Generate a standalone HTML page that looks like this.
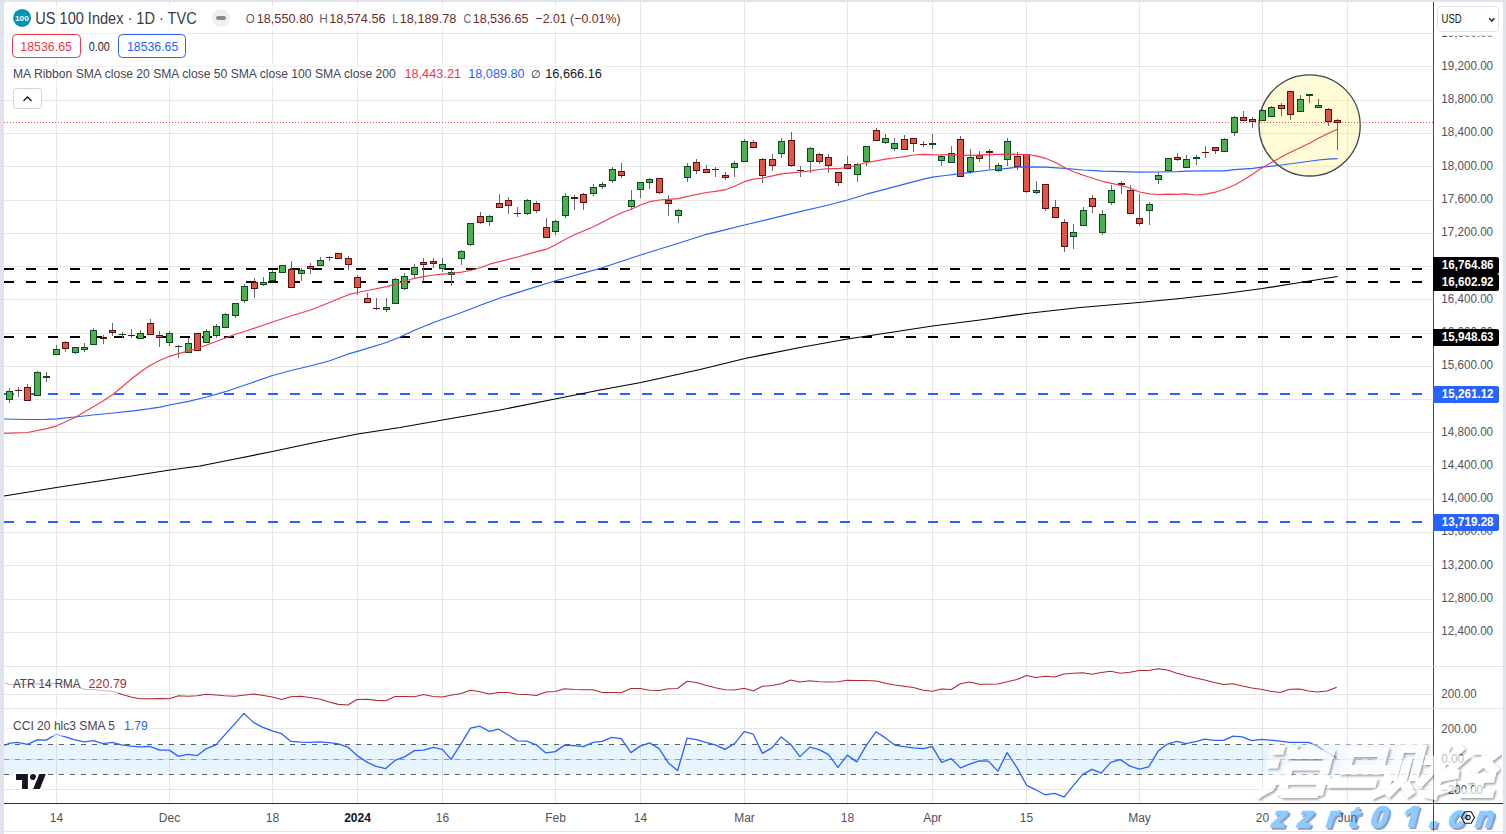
<!DOCTYPE html><html><head><meta charset="utf-8"><title>US 100 Index</title>
<style>
html,body{margin:0;padding:0;background:#fff;}
body{width:1506px;height:834px;overflow:hidden;position:relative;font-family:"Liberation Sans",sans-serif;}
svg{position:absolute;left:0;top:0;display:block}
text{font-family:"Liberation Sans",sans-serif;}
</style></head><body>
<svg width="1506" height="834" viewBox="0 0 1506 834">
<rect x="0" y="0" width="1506" height="834" fill="#e0e3eb"/>
<path d="M7,2 H1500 a3,3 0 0 1 3,3 V834 H4 V5 a3,3 0 0 1 3,-3 Z" fill="#fff"/>
<rect x="4" y="831" width="1499" height="1" fill="#e0e3eb"/>
<rect x="56" y="2" width="1" height="801" fill="#e6e6e6"/>
<rect x="169" y="2" width="1" height="801" fill="#e6e6e6"/>
<rect x="272" y="2" width="1" height="801" fill="#e6e6e6"/>
<rect x="357" y="2" width="1" height="801" fill="#e6e6e6"/>
<rect x="442" y="2" width="1" height="801" fill="#e6e6e6"/>
<rect x="555" y="2" width="1" height="801" fill="#e6e6e6"/>
<rect x="640" y="2" width="1" height="801" fill="#e6e6e6"/>
<rect x="744" y="2" width="1" height="801" fill="#e6e6e6"/>
<rect x="847" y="2" width="1" height="801" fill="#e6e6e6"/>
<rect x="932" y="2" width="1" height="801" fill="#e6e6e6"/>
<rect x="1026" y="2" width="1" height="801" fill="#e6e6e6"/>
<rect x="1139" y="2" width="1" height="801" fill="#e6e6e6"/>
<rect x="1262" y="2" width="1" height="801" fill="#e6e6e6"/>
<rect x="1347" y="2" width="1" height="801" fill="#e6e6e6"/>
<rect x="4" y="33" width="1429" height="1" fill="#e6e6e6"/>
<rect x="4" y="66" width="1429" height="1" fill="#e6e6e6"/>
<rect x="4" y="100" width="1429" height="1" fill="#e6e6e6"/>
<rect x="4" y="133" width="1429" height="1" fill="#e6e6e6"/>
<rect x="4" y="166" width="1429" height="1" fill="#e6e6e6"/>
<rect x="4" y="200" width="1429" height="1" fill="#e6e6e6"/>
<rect x="4" y="233" width="1429" height="1" fill="#e6e6e6"/>
<rect x="4" y="266" width="1429" height="1" fill="#e6e6e6"/>
<rect x="4" y="299" width="1429" height="1" fill="#e6e6e6"/>
<rect x="4" y="333" width="1429" height="1" fill="#e6e6e6"/>
<rect x="4" y="366" width="1429" height="1" fill="#e6e6e6"/>
<rect x="4" y="399" width="1429" height="1" fill="#e6e6e6"/>
<rect x="4" y="432" width="1429" height="1" fill="#e6e6e6"/>
<rect x="4" y="466" width="1429" height="1" fill="#e6e6e6"/>
<rect x="4" y="499" width="1429" height="1" fill="#e6e6e6"/>
<rect x="4" y="532" width="1429" height="1" fill="#e6e6e6"/>
<rect x="4" y="565" width="1429" height="1" fill="#e6e6e6"/>
<rect x="4" y="599" width="1429" height="1" fill="#e6e6e6"/>
<rect x="4" y="632" width="1429" height="1" fill="#e6e6e6"/>
<rect x="4" y="694" width="1429" height="1" fill="#e6e6e6"/>
<rect x="4" y="728" width="1429" height="1" fill="#e6e6e6"/>
<rect x="4" y="759" width="1429" height="1" fill="#e6e6e6"/>
<rect x="4" y="789" width="1429" height="1" fill="#e6e6e6"/>
<rect x="4" y="744" width="1429" height="31" fill="#2196f3" fill-opacity="0.1"/>
<line x1="4" y1="744.5" x2="1433" y2="744.5" stroke="#5d606b" stroke-width="1" stroke-dasharray="5,6"/>
<line x1="4" y1="759.5" x2="1433" y2="759.5" stroke="#9598a1" stroke-width="1" stroke-dasharray="5,6"/>
<line x1="4" y1="774.5" x2="1433" y2="774.5" stroke="#5d606b" stroke-width="1" stroke-dasharray="5,6"/>
<circle cx="1309.6" cy="125.4" r="50.6" fill="#fff176" fill-opacity="0.3" stroke="#434651" stroke-width="1.3"/>
<line x1="4" y1="269" x2="1433" y2="269" stroke="#000" stroke-width="2" stroke-dasharray="10,12"/>
<line x1="4" y1="282" x2="1433" y2="282" stroke="#000" stroke-width="2" stroke-dasharray="10,12"/>
<line x1="4" y1="337" x2="1433" y2="337" stroke="#000" stroke-width="2" stroke-dasharray="10,12"/>
<line x1="4" y1="394" x2="1433" y2="394" stroke="#2962ff" stroke-width="2" stroke-dasharray="10,12"/>
<line x1="4" y1="522" x2="1433" y2="522" stroke="#2962ff" stroke-width="2" stroke-dasharray="10,12"/>
<line x1="4" y1="122.5" x2="1433" y2="122.5" stroke="#e0533f" stroke-width="1" stroke-dasharray="1,2"/>
<rect x="9" y="388" width="1" height="15" fill="#67686c"/>
<rect x="6" y="391" width="7" height="9" fill="#0b4a1f"/>
<rect x="7" y="392" width="5" height="7" fill="#4caf50"/>
<rect x="18" y="387" width="1" height="10" fill="#67686c"/>
<rect x="15" y="390" width="7" height="1" fill="#5a1010"/>
<rect x="27" y="384" width="1" height="17" fill="#67686c"/>
<rect x="24" y="387" width="7" height="14" fill="#5a1010"/>
<rect x="25" y="388" width="5" height="12" fill="#dc5546"/>
<rect x="37" y="371" width="1" height="25" fill="#67686c"/>
<rect x="34" y="372" width="7" height="24" fill="#0b4a1f"/>
<rect x="35" y="373" width="5" height="22" fill="#4caf50"/>
<rect x="46" y="372" width="1" height="10" fill="#67686c"/>
<rect x="43" y="376" width="7" height="2" fill="#0b4a1f"/>
<rect x="56" y="345" width="1" height="10" fill="#67686c"/>
<rect x="53" y="349" width="7" height="6" fill="#0b4a1f"/>
<rect x="54" y="350" width="5" height="4" fill="#4caf50"/>
<rect x="65" y="341" width="1" height="11" fill="#67686c"/>
<rect x="62" y="342" width="7" height="7" fill="#5a1010"/>
<rect x="63" y="343" width="5" height="5" fill="#dc5546"/>
<rect x="75" y="347" width="1" height="7" fill="#67686c"/>
<rect x="72" y="347" width="7" height="6" fill="#0b4a1f"/>
<rect x="73" y="348" width="5" height="4" fill="#4caf50"/>
<rect x="84" y="343" width="1" height="9" fill="#67686c"/>
<rect x="81" y="347" width="7" height="3" fill="#0b4a1f"/>
<rect x="82" y="348" width="5" height="1" fill="#4caf50"/>
<rect x="93" y="328" width="1" height="17" fill="#67686c"/>
<rect x="90" y="330" width="7" height="15" fill="#0b4a1f"/>
<rect x="91" y="331" width="5" height="13" fill="#4caf50"/>
<rect x="103" y="335" width="1" height="9" fill="#67686c"/>
<rect x="100" y="337" width="7" height="2" fill="#5a1010"/>
<rect x="112" y="323" width="1" height="13" fill="#67686c"/>
<rect x="109" y="330" width="7" height="3" fill="#5a1010"/>
<rect x="110" y="331" width="5" height="1" fill="#dc5546"/>
<rect x="122" y="332" width="1" height="6" fill="#67686c"/>
<rect x="119" y="334" width="7" height="1" fill="#0b4a1f"/>
<rect x="131" y="329" width="1" height="9" fill="#67686c"/>
<rect x="128" y="335" width="7" height="1" fill="#5a1010"/>
<rect x="140" y="330" width="1" height="9" fill="#67686c"/>
<rect x="137" y="333" width="7" height="6" fill="#0b4a1f"/>
<rect x="138" y="334" width="5" height="4" fill="#4caf50"/>
<rect x="150" y="319" width="1" height="16" fill="#67686c"/>
<rect x="147" y="323" width="7" height="12" fill="#5a1010"/>
<rect x="148" y="324" width="5" height="10" fill="#dc5546"/>
<rect x="159" y="331" width="1" height="16" fill="#67686c"/>
<rect x="156" y="335" width="7" height="3" fill="#5a1010"/>
<rect x="157" y="336" width="5" height="1" fill="#dc5546"/>
<rect x="169" y="331" width="1" height="15" fill="#67686c"/>
<rect x="166" y="333" width="7" height="10" fill="#0b4a1f"/>
<rect x="167" y="334" width="5" height="8" fill="#4caf50"/>
<rect x="178" y="345" width="1" height="13" fill="#67686c"/>
<rect x="175" y="346" width="7" height="1" fill="#0b4a1f"/>
<rect x="188" y="338" width="1" height="15" fill="#67686c"/>
<rect x="185" y="343" width="7" height="10" fill="#0b4a1f"/>
<rect x="186" y="344" width="5" height="8" fill="#4caf50"/>
<rect x="197" y="333" width="1" height="18" fill="#67686c"/>
<rect x="194" y="333" width="7" height="18" fill="#5a1010"/>
<rect x="195" y="334" width="5" height="16" fill="#dc5546"/>
<rect x="206" y="329" width="1" height="14" fill="#67686c"/>
<rect x="203" y="331" width="7" height="12" fill="#0b4a1f"/>
<rect x="204" y="332" width="5" height="10" fill="#4caf50"/>
<rect x="216" y="324" width="1" height="14" fill="#67686c"/>
<rect x="213" y="326" width="7" height="10" fill="#0b4a1f"/>
<rect x="214" y="327" width="5" height="8" fill="#4caf50"/>
<rect x="225" y="313" width="1" height="15" fill="#67686c"/>
<rect x="222" y="314" width="7" height="14" fill="#0b4a1f"/>
<rect x="223" y="315" width="5" height="12" fill="#4caf50"/>
<rect x="235" y="303" width="1" height="15" fill="#67686c"/>
<rect x="232" y="303" width="7" height="13" fill="#0b4a1f"/>
<rect x="233" y="304" width="5" height="11" fill="#4caf50"/>
<rect x="244" y="284" width="1" height="19" fill="#67686c"/>
<rect x="241" y="286" width="7" height="15" fill="#0b4a1f"/>
<rect x="242" y="287" width="5" height="13" fill="#4caf50"/>
<rect x="254" y="278" width="1" height="20" fill="#67686c"/>
<rect x="251" y="282" width="7" height="7" fill="#5a1010"/>
<rect x="252" y="283" width="5" height="5" fill="#dc5546"/>
<rect x="263" y="277" width="1" height="9" fill="#67686c"/>
<rect x="260" y="282" width="7" height="3" fill="#0b4a1f"/>
<rect x="261" y="283" width="5" height="1" fill="#4caf50"/>
<rect x="272" y="270" width="1" height="11" fill="#67686c"/>
<rect x="269" y="272" width="7" height="9" fill="#0b4a1f"/>
<rect x="270" y="273" width="5" height="7" fill="#4caf50"/>
<rect x="282" y="265" width="1" height="8" fill="#67686c"/>
<rect x="279" y="265" width="7" height="8" fill="#0b4a1f"/>
<rect x="280" y="266" width="5" height="6" fill="#4caf50"/>
<rect x="291" y="261" width="1" height="27" fill="#67686c"/>
<rect x="288" y="269" width="7" height="19" fill="#5a1010"/>
<rect x="289" y="270" width="5" height="17" fill="#dc5546"/>
<rect x="301" y="268" width="1" height="13" fill="#67686c"/>
<rect x="298" y="270" width="7" height="4" fill="#0b4a1f"/>
<rect x="299" y="271" width="5" height="2" fill="#4caf50"/>
<rect x="310" y="263" width="1" height="11" fill="#67686c"/>
<rect x="307" y="266" width="7" height="3" fill="#5a1010"/>
<rect x="308" y="267" width="5" height="1" fill="#dc5546"/>
<rect x="320" y="257" width="1" height="9" fill="#67686c"/>
<rect x="317" y="260" width="7" height="6" fill="#0b4a1f"/>
<rect x="318" y="261" width="5" height="4" fill="#4caf50"/>
<rect x="329" y="256" width="1" height="5" fill="#67686c"/>
<rect x="326" y="257" width="7" height="1" fill="#0b4a1f"/>
<rect x="338" y="253" width="1" height="6" fill="#67686c"/>
<rect x="335" y="253" width="7" height="6" fill="#5a1010"/>
<rect x="336" y="254" width="5" height="4" fill="#dc5546"/>
<rect x="348" y="256" width="1" height="14" fill="#67686c"/>
<rect x="345" y="258" width="7" height="7" fill="#5a1010"/>
<rect x="346" y="259" width="5" height="5" fill="#dc5546"/>
<rect x="357" y="275" width="1" height="20" fill="#67686c"/>
<rect x="354" y="277" width="7" height="11" fill="#5a1010"/>
<rect x="355" y="278" width="5" height="9" fill="#dc5546"/>
<rect x="367" y="293" width="1" height="10" fill="#67686c"/>
<rect x="364" y="298" width="7" height="5" fill="#5a1010"/>
<rect x="365" y="299" width="5" height="3" fill="#dc5546"/>
<rect x="376" y="298" width="1" height="12" fill="#67686c"/>
<rect x="373" y="308" width="7" height="1" fill="#5a1010"/>
<rect x="386" y="298" width="1" height="14" fill="#67686c"/>
<rect x="383" y="307" width="7" height="3" fill="#0b4a1f"/>
<rect x="384" y="308" width="5" height="1" fill="#4caf50"/>
<rect x="395" y="278" width="1" height="26" fill="#67686c"/>
<rect x="392" y="279" width="7" height="25" fill="#0b4a1f"/>
<rect x="393" y="280" width="5" height="23" fill="#4caf50"/>
<rect x="404" y="273" width="1" height="17" fill="#67686c"/>
<rect x="401" y="276" width="7" height="13" fill="#0b4a1f"/>
<rect x="402" y="277" width="5" height="11" fill="#4caf50"/>
<rect x="414" y="264" width="1" height="14" fill="#67686c"/>
<rect x="411" y="267" width="7" height="8" fill="#0b4a1f"/>
<rect x="412" y="268" width="5" height="6" fill="#4caf50"/>
<rect x="423" y="258" width="1" height="23" fill="#67686c"/>
<rect x="420" y="262" width="7" height="3" fill="#5a1010"/>
<rect x="421" y="263" width="5" height="1" fill="#dc5546"/>
<rect x="433" y="258" width="1" height="10" fill="#67686c"/>
<rect x="430" y="261" width="7" height="3" fill="#5a1010"/>
<rect x="431" y="262" width="5" height="1" fill="#dc5546"/>
<rect x="442" y="258" width="1" height="14" fill="#67686c"/>
<rect x="439" y="264" width="7" height="5" fill="#0b4a1f"/>
<rect x="440" y="265" width="5" height="3" fill="#4caf50"/>
<rect x="451" y="270" width="1" height="16" fill="#67686c"/>
<rect x="448" y="272" width="7" height="3" fill="#0b4a1f"/>
<rect x="449" y="273" width="5" height="1" fill="#4caf50"/>
<rect x="461" y="250" width="1" height="15" fill="#67686c"/>
<rect x="458" y="251" width="7" height="8" fill="#0b4a1f"/>
<rect x="459" y="252" width="5" height="6" fill="#4caf50"/>
<rect x="470" y="223" width="1" height="23" fill="#67686c"/>
<rect x="467" y="223" width="7" height="22" fill="#0b4a1f"/>
<rect x="468" y="224" width="5" height="20" fill="#4caf50"/>
<rect x="480" y="212" width="1" height="12" fill="#67686c"/>
<rect x="477" y="216" width="7" height="7" fill="#5a1010"/>
<rect x="478" y="217" width="5" height="5" fill="#dc5546"/>
<rect x="489" y="215" width="1" height="11" fill="#67686c"/>
<rect x="486" y="216" width="7" height="6" fill="#0b4a1f"/>
<rect x="487" y="217" width="5" height="4" fill="#4caf50"/>
<rect x="499" y="194" width="1" height="14" fill="#67686c"/>
<rect x="496" y="203" width="7" height="5" fill="#5a1010"/>
<rect x="497" y="204" width="5" height="3" fill="#dc5546"/>
<rect x="508" y="197" width="1" height="17" fill="#67686c"/>
<rect x="505" y="200" width="7" height="6" fill="#5a1010"/>
<rect x="506" y="201" width="5" height="4" fill="#dc5546"/>
<rect x="517" y="207" width="1" height="10" fill="#67686c"/>
<rect x="514" y="213" width="7" height="1" fill="#5a1010"/>
<rect x="527" y="199" width="1" height="16" fill="#67686c"/>
<rect x="524" y="200" width="7" height="14" fill="#0b4a1f"/>
<rect x="525" y="201" width="5" height="12" fill="#4caf50"/>
<rect x="536" y="201" width="1" height="12" fill="#67686c"/>
<rect x="533" y="203" width="7" height="8" fill="#5a1010"/>
<rect x="534" y="204" width="5" height="6" fill="#dc5546"/>
<rect x="546" y="218" width="1" height="20" fill="#67686c"/>
<rect x="543" y="227" width="7" height="11" fill="#5a1010"/>
<rect x="544" y="228" width="5" height="9" fill="#dc5546"/>
<rect x="555" y="220" width="1" height="15" fill="#67686c"/>
<rect x="552" y="221" width="7" height="11" fill="#0b4a1f"/>
<rect x="553" y="222" width="5" height="9" fill="#4caf50"/>
<rect x="565" y="193" width="1" height="25" fill="#67686c"/>
<rect x="562" y="196" width="7" height="20" fill="#0b4a1f"/>
<rect x="563" y="197" width="5" height="18" fill="#4caf50"/>
<rect x="574" y="195" width="1" height="15" fill="#67686c"/>
<rect x="571" y="197" width="7" height="2" fill="#5a1010"/>
<rect x="583" y="193" width="1" height="17" fill="#67686c"/>
<rect x="580" y="194" width="7" height="9" fill="#5a1010"/>
<rect x="581" y="195" width="5" height="7" fill="#dc5546"/>
<rect x="593" y="184" width="1" height="12" fill="#67686c"/>
<rect x="590" y="187" width="7" height="7" fill="#0b4a1f"/>
<rect x="591" y="188" width="5" height="5" fill="#4caf50"/>
<rect x="602" y="182" width="1" height="7" fill="#67686c"/>
<rect x="599" y="184" width="7" height="3" fill="#0b4a1f"/>
<rect x="600" y="185" width="5" height="1" fill="#4caf50"/>
<rect x="612" y="167" width="1" height="16" fill="#67686c"/>
<rect x="609" y="169" width="7" height="12" fill="#0b4a1f"/>
<rect x="610" y="170" width="5" height="10" fill="#4caf50"/>
<rect x="621" y="163" width="1" height="15" fill="#67686c"/>
<rect x="618" y="171" width="7" height="5" fill="#5a1010"/>
<rect x="619" y="172" width="5" height="3" fill="#dc5546"/>
<rect x="631" y="190" width="1" height="20" fill="#67686c"/>
<rect x="628" y="200" width="7" height="7" fill="#0b4a1f"/>
<rect x="629" y="201" width="5" height="5" fill="#4caf50"/>
<rect x="640" y="182" width="1" height="16" fill="#67686c"/>
<rect x="637" y="182" width="7" height="8" fill="#0b4a1f"/>
<rect x="638" y="183" width="5" height="6" fill="#4caf50"/>
<rect x="649" y="178" width="1" height="11" fill="#67686c"/>
<rect x="646" y="179" width="7" height="4" fill="#0b4a1f"/>
<rect x="647" y="180" width="5" height="2" fill="#4caf50"/>
<rect x="659" y="178" width="1" height="16" fill="#67686c"/>
<rect x="656" y="178" width="7" height="15" fill="#5a1010"/>
<rect x="657" y="179" width="5" height="13" fill="#dc5546"/>
<rect x="668" y="195" width="1" height="21" fill="#67686c"/>
<rect x="665" y="200" width="7" height="4" fill="#5a1010"/>
<rect x="666" y="201" width="5" height="2" fill="#dc5546"/>
<rect x="678" y="209" width="1" height="14" fill="#67686c"/>
<rect x="675" y="210" width="7" height="6" fill="#0b4a1f"/>
<rect x="676" y="211" width="5" height="4" fill="#4caf50"/>
<rect x="687" y="163" width="1" height="19" fill="#67686c"/>
<rect x="684" y="166" width="7" height="12" fill="#0b4a1f"/>
<rect x="685" y="167" width="5" height="10" fill="#4caf50"/>
<rect x="696" y="159" width="1" height="15" fill="#67686c"/>
<rect x="693" y="162" width="7" height="9" fill="#5a1010"/>
<rect x="694" y="163" width="5" height="7" fill="#dc5546"/>
<rect x="706" y="165" width="1" height="8" fill="#67686c"/>
<rect x="703" y="169" width="7" height="4" fill="#5a1010"/>
<rect x="704" y="170" width="5" height="2" fill="#dc5546"/>
<rect x="715" y="167" width="1" height="10" fill="#67686c"/>
<rect x="712" y="169" width="7" height="1" fill="#0b4a1f"/>
<rect x="725" y="172" width="1" height="8" fill="#67686c"/>
<rect x="722" y="175" width="7" height="3" fill="#5a1010"/>
<rect x="723" y="176" width="5" height="1" fill="#dc5546"/>
<rect x="734" y="161" width="1" height="16" fill="#67686c"/>
<rect x="731" y="163" width="7" height="5" fill="#0b4a1f"/>
<rect x="732" y="164" width="5" height="3" fill="#4caf50"/>
<rect x="744" y="139" width="1" height="23" fill="#67686c"/>
<rect x="741" y="141" width="7" height="21" fill="#0b4a1f"/>
<rect x="742" y="142" width="5" height="19" fill="#4caf50"/>
<rect x="753" y="140" width="1" height="8" fill="#67686c"/>
<rect x="750" y="142" width="7" height="6" fill="#5a1010"/>
<rect x="751" y="143" width="5" height="4" fill="#dc5546"/>
<rect x="762" y="158" width="1" height="25" fill="#67686c"/>
<rect x="759" y="159" width="7" height="17" fill="#5a1010"/>
<rect x="760" y="160" width="5" height="15" fill="#dc5546"/>
<rect x="772" y="154" width="1" height="17" fill="#67686c"/>
<rect x="769" y="159" width="7" height="7" fill="#5a1010"/>
<rect x="770" y="160" width="5" height="5" fill="#dc5546"/>
<rect x="781" y="138" width="1" height="20" fill="#67686c"/>
<rect x="778" y="141" width="7" height="13" fill="#0b4a1f"/>
<rect x="779" y="142" width="5" height="11" fill="#4caf50"/>
<rect x="791" y="132" width="1" height="35" fill="#67686c"/>
<rect x="788" y="140" width="7" height="26" fill="#5a1010"/>
<rect x="789" y="141" width="5" height="24" fill="#dc5546"/>
<rect x="800" y="166" width="1" height="11" fill="#67686c"/>
<rect x="797" y="170" width="7" height="1" fill="#5a1010"/>
<rect x="810" y="147" width="1" height="26" fill="#67686c"/>
<rect x="807" y="148" width="7" height="14" fill="#0b4a1f"/>
<rect x="808" y="149" width="5" height="12" fill="#4caf50"/>
<rect x="819" y="153" width="1" height="11" fill="#67686c"/>
<rect x="816" y="154" width="7" height="8" fill="#5a1010"/>
<rect x="817" y="155" width="5" height="6" fill="#dc5546"/>
<rect x="828" y="154" width="1" height="19" fill="#67686c"/>
<rect x="825" y="157" width="7" height="9" fill="#5a1010"/>
<rect x="826" y="158" width="5" height="7" fill="#dc5546"/>
<rect x="838" y="172" width="1" height="14" fill="#67686c"/>
<rect x="835" y="172" width="7" height="11" fill="#5a1010"/>
<rect x="836" y="173" width="5" height="9" fill="#dc5546"/>
<rect x="847" y="156" width="1" height="13" fill="#67686c"/>
<rect x="844" y="164" width="7" height="5" fill="#5a1010"/>
<rect x="845" y="165" width="5" height="3" fill="#dc5546"/>
<rect x="857" y="163" width="1" height="19" fill="#67686c"/>
<rect x="854" y="164" width="7" height="11" fill="#0b4a1f"/>
<rect x="855" y="165" width="5" height="9" fill="#4caf50"/>
<rect x="866" y="146" width="1" height="20" fill="#67686c"/>
<rect x="863" y="146" width="7" height="16" fill="#0b4a1f"/>
<rect x="864" y="147" width="5" height="14" fill="#4caf50"/>
<rect x="876" y="128" width="1" height="13" fill="#67686c"/>
<rect x="873" y="130" width="7" height="11" fill="#5a1010"/>
<rect x="874" y="131" width="5" height="9" fill="#dc5546"/>
<rect x="885" y="134" width="1" height="10" fill="#67686c"/>
<rect x="882" y="138" width="7" height="5" fill="#0b4a1f"/>
<rect x="883" y="139" width="5" height="3" fill="#4caf50"/>
<rect x="894" y="138" width="1" height="13" fill="#67686c"/>
<rect x="891" y="143" width="7" height="6" fill="#0b4a1f"/>
<rect x="892" y="144" width="5" height="4" fill="#4caf50"/>
<rect x="904" y="135" width="1" height="15" fill="#67686c"/>
<rect x="901" y="139" width="7" height="11" fill="#5a1010"/>
<rect x="902" y="140" width="5" height="9" fill="#dc5546"/>
<rect x="913" y="138" width="1" height="14" fill="#67686c"/>
<rect x="910" y="138" width="7" height="6" fill="#5a1010"/>
<rect x="911" y="139" width="5" height="4" fill="#dc5546"/>
<rect x="923" y="141" width="1" height="6" fill="#67686c"/>
<rect x="920" y="144" width="7" height="1" fill="#5a1010"/>
<rect x="932" y="134" width="1" height="15" fill="#67686c"/>
<rect x="929" y="143" width="7" height="2" fill="#0b4a1f"/>
<rect x="941" y="155" width="1" height="11" fill="#67686c"/>
<rect x="938" y="156" width="7" height="5" fill="#0b4a1f"/>
<rect x="939" y="157" width="5" height="3" fill="#4caf50"/>
<rect x="951" y="146" width="1" height="17" fill="#67686c"/>
<rect x="948" y="153" width="7" height="10" fill="#0b4a1f"/>
<rect x="949" y="154" width="5" height="8" fill="#4caf50"/>
<rect x="960" y="136" width="1" height="41" fill="#67686c"/>
<rect x="957" y="139" width="7" height="38" fill="#5a1010"/>
<rect x="958" y="140" width="5" height="36" fill="#dc5546"/>
<rect x="970" y="149" width="1" height="25" fill="#67686c"/>
<rect x="967" y="157" width="7" height="15" fill="#0b4a1f"/>
<rect x="968" y="158" width="5" height="13" fill="#4caf50"/>
<rect x="979" y="151" width="1" height="11" fill="#67686c"/>
<rect x="976" y="155" width="7" height="4" fill="#5a1010"/>
<rect x="977" y="156" width="5" height="2" fill="#dc5546"/>
<rect x="989" y="149" width="1" height="20" fill="#67686c"/>
<rect x="986" y="151" width="7" height="2" fill="#5a1010"/>
<rect x="998" y="163" width="1" height="9" fill="#67686c"/>
<rect x="995" y="165" width="7" height="6" fill="#0b4a1f"/>
<rect x="996" y="166" width="5" height="4" fill="#4caf50"/>
<rect x="1007" y="138" width="1" height="28" fill="#67686c"/>
<rect x="1004" y="141" width="7" height="19" fill="#0b4a1f"/>
<rect x="1005" y="142" width="5" height="17" fill="#4caf50"/>
<rect x="1017" y="152" width="1" height="18" fill="#67686c"/>
<rect x="1014" y="156" width="7" height="11" fill="#5a1010"/>
<rect x="1015" y="157" width="5" height="9" fill="#dc5546"/>
<rect x="1026" y="154" width="1" height="39" fill="#67686c"/>
<rect x="1023" y="154" width="7" height="38" fill="#5a1010"/>
<rect x="1024" y="155" width="5" height="36" fill="#dc5546"/>
<rect x="1036" y="181" width="1" height="13" fill="#67686c"/>
<rect x="1033" y="190" width="7" height="3" fill="#0b4a1f"/>
<rect x="1034" y="191" width="5" height="1" fill="#4caf50"/>
<rect x="1045" y="184" width="1" height="27" fill="#67686c"/>
<rect x="1042" y="184" width="7" height="25" fill="#5a1010"/>
<rect x="1043" y="185" width="5" height="23" fill="#dc5546"/>
<rect x="1055" y="200" width="1" height="18" fill="#67686c"/>
<rect x="1052" y="207" width="7" height="11" fill="#5a1010"/>
<rect x="1053" y="208" width="5" height="9" fill="#dc5546"/>
<rect x="1064" y="219" width="1" height="33" fill="#67686c"/>
<rect x="1061" y="222" width="7" height="25" fill="#5a1010"/>
<rect x="1062" y="223" width="5" height="23" fill="#dc5546"/>
<rect x="1073" y="224" width="1" height="25" fill="#67686c"/>
<rect x="1070" y="232" width="7" height="5" fill="#0b4a1f"/>
<rect x="1071" y="233" width="5" height="3" fill="#4caf50"/>
<rect x="1083" y="207" width="1" height="19" fill="#67686c"/>
<rect x="1080" y="210" width="7" height="16" fill="#0b4a1f"/>
<rect x="1081" y="211" width="5" height="14" fill="#4caf50"/>
<rect x="1092" y="195" width="1" height="18" fill="#67686c"/>
<rect x="1089" y="198" width="7" height="9" fill="#5a1010"/>
<rect x="1090" y="199" width="5" height="7" fill="#dc5546"/>
<rect x="1102" y="210" width="1" height="25" fill="#67686c"/>
<rect x="1099" y="214" width="7" height="19" fill="#0b4a1f"/>
<rect x="1100" y="215" width="5" height="17" fill="#4caf50"/>
<rect x="1111" y="185" width="1" height="20" fill="#67686c"/>
<rect x="1108" y="190" width="7" height="13" fill="#0b4a1f"/>
<rect x="1109" y="191" width="5" height="11" fill="#4caf50"/>
<rect x="1121" y="181" width="1" height="13" fill="#67686c"/>
<rect x="1118" y="183" width="7" height="2" fill="#5a1010"/>
<rect x="1130" y="185" width="1" height="29" fill="#67686c"/>
<rect x="1127" y="190" width="7" height="24" fill="#5a1010"/>
<rect x="1128" y="191" width="5" height="22" fill="#dc5546"/>
<rect x="1139" y="194" width="1" height="32" fill="#67686c"/>
<rect x="1136" y="218" width="7" height="6" fill="#5a1010"/>
<rect x="1137" y="219" width="5" height="4" fill="#dc5546"/>
<rect x="1149" y="202" width="1" height="23" fill="#67686c"/>
<rect x="1146" y="204" width="7" height="7" fill="#0b4a1f"/>
<rect x="1147" y="205" width="5" height="5" fill="#4caf50"/>
<rect x="1158" y="172" width="1" height="12" fill="#67686c"/>
<rect x="1155" y="175" width="7" height="5" fill="#0b4a1f"/>
<rect x="1156" y="176" width="5" height="3" fill="#4caf50"/>
<rect x="1168" y="158" width="1" height="13" fill="#67686c"/>
<rect x="1165" y="158" width="7" height="13" fill="#0b4a1f"/>
<rect x="1166" y="159" width="5" height="11" fill="#4caf50"/>
<rect x="1177" y="153" width="1" height="8" fill="#67686c"/>
<rect x="1174" y="157" width="7" height="3" fill="#5a1010"/>
<rect x="1175" y="158" width="5" height="1" fill="#dc5546"/>
<rect x="1186" y="155" width="1" height="13" fill="#67686c"/>
<rect x="1183" y="159" width="7" height="9" fill="#0b4a1f"/>
<rect x="1184" y="160" width="5" height="7" fill="#4caf50"/>
<rect x="1196" y="155" width="1" height="10" fill="#67686c"/>
<rect x="1193" y="157" width="7" height="2" fill="#0b4a1f"/>
<rect x="1205" y="146" width="1" height="12" fill="#67686c"/>
<rect x="1202" y="152" width="7" height="1" fill="#5a1010"/>
<rect x="1215" y="147" width="1" height="7" fill="#67686c"/>
<rect x="1212" y="147" width="7" height="4" fill="#5a1010"/>
<rect x="1213" y="148" width="5" height="2" fill="#dc5546"/>
<rect x="1224" y="138" width="1" height="14" fill="#67686c"/>
<rect x="1221" y="139" width="7" height="13" fill="#0b4a1f"/>
<rect x="1222" y="140" width="5" height="11" fill="#4caf50"/>
<rect x="1234" y="116" width="1" height="20" fill="#67686c"/>
<rect x="1231" y="117" width="7" height="16" fill="#0b4a1f"/>
<rect x="1232" y="118" width="5" height="14" fill="#4caf50"/>
<rect x="1243" y="111" width="1" height="10" fill="#67686c"/>
<rect x="1240" y="117" width="7" height="4" fill="#5a1010"/>
<rect x="1241" y="118" width="5" height="2" fill="#dc5546"/>
<rect x="1252" y="117" width="1" height="11" fill="#67686c"/>
<rect x="1249" y="119" width="7" height="3" fill="#5a1010"/>
<rect x="1250" y="120" width="5" height="1" fill="#dc5546"/>
<rect x="1262" y="109" width="1" height="12" fill="#67686c"/>
<rect x="1259" y="110" width="7" height="11" fill="#0b4a1f"/>
<rect x="1260" y="111" width="5" height="9" fill="#4caf50"/>
<rect x="1271" y="106" width="1" height="11" fill="#67686c"/>
<rect x="1268" y="107" width="7" height="10" fill="#0b4a1f"/>
<rect x="1269" y="108" width="5" height="8" fill="#4caf50"/>
<rect x="1281" y="103" width="1" height="13" fill="#67686c"/>
<rect x="1278" y="105" width="7" height="4" fill="#5a1010"/>
<rect x="1279" y="106" width="5" height="2" fill="#dc5546"/>
<rect x="1290" y="91" width="1" height="29" fill="#67686c"/>
<rect x="1287" y="91" width="7" height="24" fill="#5a1010"/>
<rect x="1288" y="92" width="5" height="22" fill="#dc5546"/>
<rect x="1300" y="95" width="1" height="17" fill="#67686c"/>
<rect x="1297" y="99" width="7" height="13" fill="#0b4a1f"/>
<rect x="1298" y="100" width="5" height="11" fill="#4caf50"/>
<rect x="1309" y="94" width="1" height="9" fill="#67686c"/>
<rect x="1306" y="94" width="7" height="2" fill="#0b4a1f"/>
<rect x="1318" y="99" width="1" height="9" fill="#67686c"/>
<rect x="1315" y="105" width="7" height="3" fill="#0b4a1f"/>
<rect x="1316" y="106" width="5" height="1" fill="#4caf50"/>
<rect x="1328" y="108" width="1" height="18" fill="#67686c"/>
<rect x="1325" y="109" width="7" height="13" fill="#5a1010"/>
<rect x="1326" y="110" width="5" height="11" fill="#dc5546"/>
<rect x="1337" y="119" width="1" height="31" fill="#67686c"/>
<rect x="1334" y="120" width="7" height="3" fill="#5a1010"/>
<rect x="1335" y="121" width="5" height="1" fill="#dc5546"/>
<polyline points="4.0,496.0 56.5,487.5 112.5,479.0 170.0,470.0 200.0,466.0 235.0,459.0 272.5,451.5 310.0,443.5 357.5,434.0 400.0,427.5 442.5,420.0 500.0,410.0 555.0,399.0 600.0,390.0 641.0,382.5 700.0,369.5 745.0,358.5 800.0,347.5 847.5,339.0 900.0,331.0 932.5,326.0 980.0,320.0 1026.5,313.5 1080.0,307.5 1139.0,302.5 1180.0,298.5 1225.0,293.5 1262.5,288.5 1300.0,282.5 1337.5,276.5" fill="none" stroke="#000" stroke-width="1.2" stroke-linejoin="round"/>
<polyline points="4.2,419.0 27.5,419.5 46.7,419.3 56.7,418.8 75.0,417.0 93.3,415.0 113.3,413.0 133.3,410.8 150.0,408.7 160.0,407.2 169.5,405.0 188.5,401.3 206.7,397.0 225.5,391.7 235.5,388.3 251.0,383.0 272.5,375.5 291.0,370.5 310.0,366.0 329.0,361.0 347.5,354.2 357.5,351.3 386.5,342.5 400.0,337.0 414.5,330.3 433.5,322.5 442.5,319.2 461.5,312.5 481.0,305.0 500.0,298.0 545.8,283.7 555.5,280.8 597.5,269.2 640.5,255.0 678.5,243.3 705.0,234.7 721.0,230.8 744.5,225.0 791.5,213.7 828.5,205.0 847.5,200.0 866.5,194.2 885.5,189.2 904.5,184.2 923.5,179.2 932.5,177.2 941.5,176.0 960.5,173.7 989.5,170.0 1007.5,168.3 1017.5,167.2 1026.5,166.8 1045.5,167.2 1064.5,168.3 1083.5,170.0 1102.5,171.2 1121.5,171.7 1139.5,172.2 1158.5,172.0 1177.5,171.7 1186.5,171.2 1205.5,170.8 1224.5,170.8 1234.5,169.7 1252.5,168.3 1262.5,167.2 1281.5,165.0 1300.5,162.5 1318.5,160.0 1328.5,159.2 1337.5,158.7" fill="none" stroke="#2962ff" stroke-width="1.2" stroke-linejoin="round"/>
<polyline points="4.2,433.3 27.5,432.5 46.7,428.7 56.7,425.8 75.0,417.5 93.3,406.7 103.3,400.8 113.3,394.2 123.3,385.8 133.3,377.5 143.3,370.0 150.5,365.3 160.0,360.3 169.5,356.3 178.5,353.7 188.5,350.8 197.5,348.3 206.7,345.0 216.7,341.3 225.5,338.0 235.5,334.2 244.5,331.5 272.5,322.0 291.5,315.8 310.5,310.0 329.5,302.5 348.5,294.7 357.5,292.5 367.5,290.5 386.5,286.7 395.5,284.2 404.5,281.3 414.5,278.3 423.5,276.7 433.5,275.0 442.5,274.2 451.5,273.3 461.5,272.2 470.5,270.5 481.0,267.5 489.5,264.2 517.5,257.0 536.5,251.7 546.5,249.2 555.5,244.7 565.5,239.2 574.5,234.7 593.5,226.7 612.5,217.0 621.5,212.8 631.5,209.2 640.5,205.0 649.5,201.7 659.5,200.0 668.5,199.3 678.5,198.7 687.5,196.3 706.5,192.5 715.5,191.3 725.5,189.7 734.5,186.3 744.5,181.7 753.5,179.2 762.5,178.0 772.5,175.8 781.5,173.8 791.5,172.8 800.5,172.0 810.5,170.8 819.5,169.5 828.5,168.7 838.5,168.7 847.5,167.5 857.5,165.0 866.5,162.5 876.5,160.8 885.5,159.2 894.5,158.0 904.5,156.7 913.5,155.0 923.5,154.3 932.5,154.7 941.5,154.9 951.5,154.5 970.5,155.3 989.5,154.7 1007.5,154.2 1026.5,154.5 1036.5,155.8 1045.5,158.3 1055.5,162.5 1064.5,167.5 1073.5,171.7 1083.5,175.3 1092.5,178.3 1102.5,181.3 1111.5,183.3 1121.5,185.5 1130.5,188.3 1139.5,192.0 1149.5,193.8 1158.5,194.5 1168.5,194.2 1177.5,194.4 1186.5,193.8 1196.5,195.0 1205.5,194.2 1215.5,192.2 1224.5,189.2 1234.5,185.0 1243.5,180.0 1252.5,174.2 1262.5,167.5 1271.5,162.5 1281.5,157.0 1290.5,152.2 1300.5,147.5 1309.5,143.3 1318.5,138.3 1328.5,133.3 1337.5,129.2" fill="none" stroke="#f23d4f" stroke-width="1.2" stroke-linejoin="round"/>
<polyline points="4.5,683.0 10.0,684.5 20.0,683.7 27.5,685.0 37.5,683.7 46.0,684.2 56.0,683.2 65.0,684.2 75.0,686.2 85.0,689.5 93.6,689.5 102.4,690.5 112.4,691.2 122.3,694.5 131.0,697.0 139.8,698.7 149.8,698.7 159.8,698.5 169.3,698.7 178.5,695.7 187.3,696.2 197.3,695.7 206.0,694.2 216.0,695.0 224.7,695.7 234.7,696.2 243.4,695.2 253.4,694.0 262.2,695.2 272.2,697.0 281.6,699.5 290.9,696.7 300.9,696.2 309.6,697.5 319.6,699.0 328.3,701.7 338.3,704.4 347.8,705.0 357.0,699.5 367.5,699.2 376.2,700.4 385.7,700.7 395.0,696.5 405.0,696.5 414.4,696.7 423.7,694.5 433.2,696.5 442.4,697.0 451.9,695.0 461.1,693.5 470.6,690.2 479.9,691.7 489.3,694.0 498.6,692.5 508.6,692.5 517.3,694.2 526.8,694.5 536.3,695.5 546.0,692.0 555.3,691.5 564.7,688.7 574.2,689.5 583.5,689.7 593.0,689.7 602.2,692.5 611.7,692.5 621.2,692.7 630.9,688.5 640.1,688.5 649.6,690.2 659.1,690.5 668.4,688.7 677.6,688.5 687.1,681.2 696.6,682.5 705.8,685.2 715.3,687.7 725.0,689.8 734.5,690.0 744.2,688.2 753.2,691.0 762.4,686.2 771.9,685.5 781.2,683.7 790.7,680.0 799.9,682.0 809.9,680.7 819.1,681.7 828.6,682.0 837.9,681.7 847.3,680.2 856.8,680.5 866.1,680.5 876.1,681.0 885.3,683.2 894.8,685.0 904.0,686.2 913.5,687.5 923.0,690.2 932.2,691.2 941.7,689.0 951.2,689.5 960.4,683.7 969.7,682.0 979.2,684.2 988.4,684.2 997.9,684.0 1007.1,681.7 1017.1,679.5 1026.6,675.5 1035.9,677.5 1045.1,676.2 1054.6,677.0 1064.1,674.0 1073.3,673.2 1082.8,672.7 1092.0,674.2 1101.2,672.5 1110.7,671.2 1120.4,673.2 1129.9,672.2 1139.4,670.5 1148.7,670.5 1158.2,668.7 1167.4,670.0 1176.9,673.2 1186.1,675.7 1195.6,678.0 1204.8,680.0 1214.3,682.5 1223.6,684.5 1233.1,683.7 1242.3,686.0 1251.8,688.0 1261.0,689.2 1270.5,691.2 1280.2,692.5 1289.7,689.2 1299.2,689.0 1308.5,691.0 1317.2,692.0 1327.2,691.0 1336.7,687.2" fill="none" stroke="#b22833" stroke-width="1.1" stroke-linejoin="round"/>
<polyline points="4.5,745.4 10.0,743.1 17.5,742.4 27.5,744.4 37.5,739.9 46.2,740.1 56.2,734.2 65.4,736.9 74.9,739.9 84.1,741.9 93.6,740.6 102.9,743.6 112.4,742.4 121.6,744.9 131.1,746.1 140.3,746.9 149.8,746.4 159.8,750.1 169.3,750.1 178.5,756.4 187.8,754.4 197.3,755.6 206.5,748.6 216.0,744.9 225.2,734.4 234.7,723.9 243.9,713.4 253.4,722.4 262.9,727.4 272.2,730.9 281.6,733.7 290.9,741.4 300.9,742.1 310.4,742.4 319.6,741.9 329.1,742.6 338.3,743.9 347.8,747.1 357.0,755.6 367.5,762.4 376.2,766.4 385.7,768.6 395.0,760.4 405.0,756.6 414.4,750.6 423.7,750.1 433.2,747.4 442.4,749.4 451.1,759.4 461.1,743.6 470.6,728.2 479.9,726.2 489.3,731.4 498.6,729.2 508.6,735.2 517.3,740.9 526.8,741.1 536.3,744.9 546.0,752.9 555.3,751.6 564.7,745.1 574.2,745.6 583.5,746.6 593.0,742.4 602.2,741.4 611.7,737.4 621.2,738.7 630.9,752.6 640.1,746.1 649.6,742.9 659.1,748.6 668.4,762.9 677.6,770.6 687.1,738.2 696.6,739.7 705.8,742.4 715.3,744.9 725.0,749.4 734.5,743.6 744.2,731.7 753.2,734.2 762.4,753.4 771.9,747.9 781.2,736.9 790.7,744.4 799.9,756.6 809.9,747.1 819.1,749.6 828.6,754.6 837.9,767.4 847.3,755.1 856.8,761.9 866.1,745.6 876.1,731.7 885.3,737.9 894.8,745.1 904.0,746.6 913.5,747.9 923.0,748.6 932.2,746.6 941.7,762.4 951.2,758.6 960.4,767.9 969.7,764.1 979.2,760.9 988.4,761.1 997.9,771.1 1007.1,752.6 1017.1,767.9 1026.6,785.3 1035.9,789.8 1045.1,794.8 1054.6,793.3 1064.1,797.1 1073.3,785.6 1082.8,774.4 1092.0,769.4 1101.2,773.1 1110.7,762.4 1120.4,759.6 1129.9,766.1 1139.4,769.1 1148.7,766.9 1158.2,751.1 1167.4,744.1 1176.9,741.4 1186.1,743.6 1195.6,741.6 1204.8,739.2 1214.3,740.4 1223.6,740.4 1233.1,736.2 1242.3,736.9 1251.8,740.6 1261.0,739.4 1270.5,740.1 1280.2,741.1 1289.7,742.4 1299.2,742.4 1308.5,742.4 1317.2,746.1 1327.2,752.4 1336.7,757.9" fill="none" stroke="#2962ff" stroke-width="1.3" stroke-linejoin="round"/>
<g transform="translate(1.9,829.1) skewX(-8)" font-size="29.5" font-weight="bold" font-style="italic" fill="#8a98c4" fill-opacity="0.9" stroke="#8a98c4" stroke-opacity="0.9" stroke-width="1.5" stroke-linejoin="round">
<text transform="translate(1270.8,0) scale(1.02,1)">z</text>
<text transform="translate(1296.8,0) scale(1.02,1)">z</text>
<text transform="translate(1325.6,0) scale(1.02,1)">r</text>
<text transform="translate(1347.7,0) scale(1.02,1)">t</text>
<text transform="translate(1369.8,0) scale(1.02,1)">0</text>
<text transform="translate(1447.8,0) scale(1.02,1)">c</text>
<text transform="translate(1474.5,0) scale(1.02,1)">n</text>
</g>
<path transform="translate(1.9,1.9)" d="M1413.5,805.8 L1419.8,805.8 L1414.3,827.2 L1407.6,827.2 L1411.3,812.8 L1404.6,815.8 L1405.9,810.8 Z M1430.3,821.2 H1437.8 L1436,828 H1428.5 Z" fill="#8a98c4" fill-opacity="0.9"/>
<g transform="translate(0,827.2) skewX(-8)" font-size="29.5" font-weight="bold" font-style="italic" fill="#8ccbff" fill-opacity="1" stroke="#8ccbff" stroke-opacity="1" stroke-width="1.5" stroke-linejoin="round">
<text transform="translate(1270.8,0) scale(1.02,1)">z</text>
<text transform="translate(1296.8,0) scale(1.02,1)">z</text>
<text transform="translate(1325.6,0) scale(1.02,1)">r</text>
<text transform="translate(1347.7,0) scale(1.02,1)">t</text>
<text transform="translate(1369.8,0) scale(1.02,1)">0</text>
<text transform="translate(1447.8,0) scale(1.02,1)">c</text>
<text transform="translate(1474.5,0) scale(1.02,1)">n</text>
</g>
<path transform="translate(0,0)" d="M1413.5,805.8 L1419.8,805.8 L1414.3,827.2 L1407.6,827.2 L1411.3,812.8 L1404.6,815.8 L1405.9,810.8 Z M1430.3,821.2 H1437.8 L1436,828 H1428.5 Z" fill="#8ccbff" fill-opacity="1"/>
<rect x="1433" y="2" width="1" height="829" fill="#45474f"/>
<rect x="4" y="803" width="1499" height="1" fill="#2a2e39"/>
<rect x="4" y="666" width="1499" height="1" fill="#e0e3eb"/>
<rect x="4" y="708" width="1499" height="1" fill="#e0e3eb"/>
<text x="1441.3" y="36.7" font-size="12" fill="#50535e" font-weight="normal" text-anchor="start" textLength="51.8" lengthAdjust="spacingAndGlyphs">19,600.00</text>
<text x="1441.3" y="69.9" font-size="12" fill="#50535e" font-weight="normal" text-anchor="start" textLength="51.8" lengthAdjust="spacingAndGlyphs">19,200.00</text>
<text x="1441.3" y="103.1" font-size="12" fill="#50535e" font-weight="normal" text-anchor="start" textLength="51.8" lengthAdjust="spacingAndGlyphs">18,800.00</text>
<text x="1441.3" y="136.4" font-size="12" fill="#50535e" font-weight="normal" text-anchor="start" textLength="51.8" lengthAdjust="spacingAndGlyphs">18,400.00</text>
<text x="1441.3" y="169.6" font-size="12" fill="#50535e" font-weight="normal" text-anchor="start" textLength="51.8" lengthAdjust="spacingAndGlyphs">18,000.00</text>
<text x="1441.3" y="202.9" font-size="12" fill="#50535e" font-weight="normal" text-anchor="start" textLength="51.8" lengthAdjust="spacingAndGlyphs">17,600.00</text>
<text x="1441.3" y="236.1" font-size="12" fill="#50535e" font-weight="normal" text-anchor="start" textLength="51.8" lengthAdjust="spacingAndGlyphs">17,200.00</text>
<text x="1441.3" y="269.3" font-size="12" fill="#50535e" font-weight="normal" text-anchor="start" textLength="51.8" lengthAdjust="spacingAndGlyphs">16,800.00</text>
<text x="1441.3" y="302.6" font-size="12" fill="#50535e" font-weight="normal" text-anchor="start" textLength="51.8" lengthAdjust="spacingAndGlyphs">16,400.00</text>
<text x="1441.3" y="335.8" font-size="12" fill="#50535e" font-weight="normal" text-anchor="start" textLength="51.8" lengthAdjust="spacingAndGlyphs">16,000.00</text>
<text x="1441.3" y="369.1" font-size="12" fill="#50535e" font-weight="normal" text-anchor="start" textLength="51.8" lengthAdjust="spacingAndGlyphs">15,600.00</text>
<text x="1441.3" y="402.3" font-size="12" fill="#50535e" font-weight="normal" text-anchor="start" textLength="51.8" lengthAdjust="spacingAndGlyphs">15,200.00</text>
<text x="1441.3" y="435.5" font-size="12" fill="#50535e" font-weight="normal" text-anchor="start" textLength="51.8" lengthAdjust="spacingAndGlyphs">14,800.00</text>
<text x="1441.3" y="468.8" font-size="12" fill="#50535e" font-weight="normal" text-anchor="start" textLength="51.8" lengthAdjust="spacingAndGlyphs">14,400.00</text>
<text x="1441.3" y="502.0" font-size="12" fill="#50535e" font-weight="normal" text-anchor="start" textLength="51.8" lengthAdjust="spacingAndGlyphs">14,000.00</text>
<text x="1441.3" y="535.3" font-size="12" fill="#50535e" font-weight="normal" text-anchor="start" textLength="51.8" lengthAdjust="spacingAndGlyphs">13,600.00</text>
<text x="1441.3" y="568.5" font-size="12" fill="#50535e" font-weight="normal" text-anchor="start" textLength="51.8" lengthAdjust="spacingAndGlyphs">13,200.00</text>
<text x="1441.3" y="601.7" font-size="12" fill="#50535e" font-weight="normal" text-anchor="start" textLength="51.8" lengthAdjust="spacingAndGlyphs">12,800.00</text>
<text x="1441.3" y="635.0" font-size="12" fill="#50535e" font-weight="normal" text-anchor="start" textLength="51.8" lengthAdjust="spacingAndGlyphs">12,400.00</text>
<text x="1441.3" y="697.8" font-size="12" fill="#50535e" font-weight="normal" text-anchor="start" textLength="35.3" lengthAdjust="spacingAndGlyphs">200.00</text>
<text x="1441.3" y="733" font-size="12" fill="#50535e" font-weight="normal" text-anchor="start" textLength="35.3" lengthAdjust="spacingAndGlyphs">200.00</text>
<text x="1441.3" y="763" font-size="12" fill="#50535e" font-weight="normal" text-anchor="start" textLength="22.8" lengthAdjust="spacingAndGlyphs">0.00</text>
<text x="1441.3" y="793.5" font-size="12" fill="#50535e" font-weight="normal" text-anchor="start" textLength="41.6" lengthAdjust="spacingAndGlyphs">−200.00</text>
<path d="M1433,257 H1497 a2,2 0 0 1 2,2 V272 a2,2 0 0 1 -2,2 H1433 Z" fill="#000"/>
<text x="1441.8" y="269" font-size="12" fill="#fff" font-weight="bold" text-anchor="start" textLength="51.8" lengthAdjust="spacingAndGlyphs">16,764.86</text>
<path d="M1433,274 H1497 a2,2 0 0 1 2,2 V289 a2,2 0 0 1 -2,2 H1433 Z" fill="#000"/>
<text x="1441.8" y="286" font-size="12" fill="#fff" font-weight="bold" text-anchor="start" textLength="51.8" lengthAdjust="spacingAndGlyphs">16,602.92</text>
<path d="M1433,329 H1497 a2,2 0 0 1 2,2 V344 a2,2 0 0 1 -2,2 H1433 Z" fill="#000"/>
<text x="1441.8" y="341" font-size="12" fill="#fff" font-weight="bold" text-anchor="start" textLength="51.8" lengthAdjust="spacingAndGlyphs">15,948.63</text>
<path d="M1433,386 H1497 a2,2 0 0 1 2,2 V401 a2,2 0 0 1 -2,2 H1433 Z" fill="#2962ff"/>
<text x="1441.8" y="398" font-size="12" fill="#fff" font-weight="bold" text-anchor="start" textLength="51.8" lengthAdjust="spacingAndGlyphs">15,261.12</text>
<path d="M1433,514 H1497 a2,2 0 0 1 2,2 V529 a2,2 0 0 1 -2,2 H1433 Z" fill="#2962ff"/>
<text x="1441.8" y="526" font-size="12" fill="#fff" font-weight="bold" text-anchor="start" textLength="51.8" lengthAdjust="spacingAndGlyphs">13,719.28</text>
<rect x="1434" y="2" width="69" height="33.6" fill="#fff"/>
<rect x="1437.5" y="6.5" width="61" height="25" rx="4" fill="#fff" stroke="#e0e3eb" stroke-width="1"/>
<text x="1441.5" y="22.8" font-size="12" fill="#131722" font-weight="normal" text-anchor="start" textLength="20.3" lengthAdjust="spacingAndGlyphs">USD</text>
<path d="M1489.2,18.3 l2.6,2.6 l2.6,-2.6" fill="none" stroke="#131722" stroke-width="1.4"/>
<text x="56.5" y="821.5" font-size="12" fill="#50535e" font-weight="normal" text-anchor="middle">14</text>
<text x="169.5" y="821.5" font-size="12" fill="#50535e" font-weight="normal" text-anchor="middle">Dec</text>
<text x="272.5" y="821.5" font-size="12" fill="#50535e" font-weight="normal" text-anchor="middle">18</text>
<text x="357.5" y="821.5" font-size="12" fill="#131722" font-weight="bold" text-anchor="middle">2024</text>
<text x="442.5" y="821.5" font-size="12" fill="#50535e" font-weight="normal" text-anchor="middle">16</text>
<text x="555.5" y="821.5" font-size="12" fill="#50535e" font-weight="normal" text-anchor="middle">Feb</text>
<text x="640.5" y="821.5" font-size="12" fill="#50535e" font-weight="normal" text-anchor="middle">14</text>
<text x="744.5" y="821.5" font-size="12" fill="#50535e" font-weight="normal" text-anchor="middle">Mar</text>
<text x="847.5" y="821.5" font-size="12" fill="#50535e" font-weight="normal" text-anchor="middle">18</text>
<text x="932.5" y="821.5" font-size="12" fill="#50535e" font-weight="normal" text-anchor="middle">Apr</text>
<text x="1026.5" y="821.5" font-size="12" fill="#50535e" font-weight="normal" text-anchor="middle">15</text>
<text x="1139.5" y="821.5" font-size="12" fill="#50535e" font-weight="normal" text-anchor="middle">May</text>
<text x="1262.5" y="821.5" font-size="12" fill="#50535e" font-weight="normal" text-anchor="middle">20</text>
<text x="1347.5" y="821.5" font-size="12" fill="#50535e" font-weight="normal" text-anchor="middle">Jun</text>
<g transform="translate(1468,817.5)" fill="none" stroke="#131722" stroke-width="1.1"><path d="M-3.2,-5.8 H3.2 L6.5,0 L3.2,5.8 H-3.2 L-6.5,0 Z"/><circle r="2.2" stroke-width="1.1"/></g>
<rect x="4" y="6" width="621" height="25" fill="#fff" fill-opacity="0.5"/>
<rect x="4" y="32" width="184" height="28" fill="#fff" fill-opacity="0.5"/>
<rect x="4" y="63" width="602" height="23" fill="#fff" fill-opacity="0.5"/>
<circle cx="22.1" cy="17.95" r="9" fill="#0092b8"/>
<text x="14.9" y="20.75" font-size="7.7" fill="#fff" font-weight="bold" text-anchor="start" textLength="13.9" lengthAdjust="spacingAndGlyphs">100</text>
<text x="35.3" y="23.8" font-size="16" fill="#363a45" font-weight="normal" text-anchor="start" textLength="161.4" lengthAdjust="spacingAndGlyphs">US 100 Index · 1D · TVC</text>
<circle cx="221" cy="18" r="9" fill="#eeeff1"/><rect x="216" y="16" width="10" height="4" rx="2" fill="#868993"/>
<text x="245.8" y="23" font-size="13" fill="#5d606b" font-weight="normal" text-anchor="start" textLength="9" lengthAdjust="spacingAndGlyphs">O</text>
<text x="256.7" y="23" font-size="13" fill="#6d2c2c" font-weight="normal" text-anchor="start" textLength="56.6" lengthAdjust="spacingAndGlyphs">18,550.80</text>
<text x="319.2" y="23" font-size="13" fill="#5d606b" font-weight="normal" text-anchor="start" textLength="8.6" lengthAdjust="spacingAndGlyphs">H</text>
<text x="329.2" y="23" font-size="13" fill="#6d2c2c" font-weight="normal" text-anchor="start" textLength="56.3" lengthAdjust="spacingAndGlyphs">18,574.56</text>
<text x="392.3" y="23" font-size="13" fill="#5d606b" font-weight="normal" text-anchor="start" textLength="6" lengthAdjust="spacingAndGlyphs">L</text>
<text x="399.7" y="23" font-size="13" fill="#6d2c2c" font-weight="normal" text-anchor="start" textLength="56.7" lengthAdjust="spacingAndGlyphs">18,189.78</text>
<text x="463.4" y="23" font-size="13" fill="#5d606b" font-weight="normal" text-anchor="start" textLength="7.5" lengthAdjust="spacingAndGlyphs">C</text>
<text x="472.7" y="23" font-size="13" fill="#6d2c2c" font-weight="normal" text-anchor="start" textLength="55.8" lengthAdjust="spacingAndGlyphs">18,536.65</text>
<text x="535.5" y="23" font-size="13" fill="#6d2c2c" font-weight="normal" text-anchor="start" textLength="85" lengthAdjust="spacingAndGlyphs">−2.01 (−0.01%)</text>
<rect x="12.5" y="34.5" width="68" height="23" rx="4" fill="#fff" stroke="#f23645" stroke-width="1"/>
<text x="20.3" y="50.7" font-size="13" fill="#f23645" font-weight="normal" text-anchor="start" textLength="51.7" lengthAdjust="spacingAndGlyphs">18536.65</text>
<text x="88.7" y="50.7" font-size="13" fill="#131722" font-weight="normal" text-anchor="start" textLength="21" lengthAdjust="spacingAndGlyphs">0.00</text>
<rect x="118.5" y="34.5" width="67" height="23" rx="4" fill="#fff" stroke="#2962ff" stroke-width="1"/>
<text x="127" y="50.7" font-size="13" fill="#2962ff" font-weight="normal" text-anchor="start" textLength="51.3" lengthAdjust="spacingAndGlyphs">18536.65</text>
<text x="13" y="78.3" font-size="12" fill="#434651" font-weight="normal" text-anchor="start" textLength="382.8" lengthAdjust="spacingAndGlyphs">MA Ribbon SMA close 20 SMA close 50 SMA close 100 SMA close 200</text>
<text x="404.4" y="78.3" font-size="13" fill="#f23645" font-weight="normal" text-anchor="start" textLength="56.7" lengthAdjust="spacingAndGlyphs">18,443.21</text>
<text x="468.2" y="78.3" font-size="13" fill="#2962ff" font-weight="normal" text-anchor="start" textLength="56.5" lengthAdjust="spacingAndGlyphs">18,089.80</text>
<text x="531" y="78" font-size="10.5" fill="#131722" font-weight="normal" text-anchor="start">∅</text>
<text x="545.2" y="78.3" font-size="13" fill="#131722" font-weight="normal" text-anchor="start" textLength="56.7" lengthAdjust="spacingAndGlyphs">16,666.16</text>
<rect x="13.5" y="88.5" width="28" height="20" rx="3" fill="#fff" stroke="#d1d4dc" stroke-width="1"/>
<path d="M23.5,101 l4,-4 l4,4" fill="none" stroke="#131722" stroke-width="1.4"/>
<rect x="4" y="676" width="114" height="18" fill="#fff" fill-opacity="0.6"/>
<rect x="4" y="717" width="148" height="19" fill="#fff" fill-opacity="0.5"/>
<text x="13" y="688.3" font-size="12" fill="#434651" font-weight="normal" text-anchor="start" textLength="67.4" lengthAdjust="spacingAndGlyphs">ATR 14 RMA</text>
<text x="88.6" y="688.3" font-size="13" fill="#b22833" font-weight="normal" text-anchor="start" textLength="38.2" lengthAdjust="spacingAndGlyphs">220.79</text>
<text x="13" y="730.3" font-size="12" fill="#434651" font-weight="normal" text-anchor="start" textLength="101.9" lengthAdjust="spacingAndGlyphs">CCI 20 hlc3 SMA 5</text>
<text x="124.1" y="730.3" font-size="13" fill="#2962ff" font-weight="normal" text-anchor="start" textLength="23.7" lengthAdjust="spacingAndGlyphs">1.79</text>
<g fill="#131722" stroke="#fff" stroke-width="4" paint-order="stroke" stroke-linejoin="round"><path d="M16,774.1 H27.9 V788.9 H22.1 V779.9 H16 Z"/><circle cx="33" cy="777" r="3"/><path d="M39.3,774.1 H45.8 L39.9,788.9 H33.1 Z"/></g>
<defs><filter id="ds" x="-10%" y="-20%" width="125%" height="150%"><feDropShadow dx="1.6" dy="1.6" stdDeviation="0.9" flood-color="#000" flood-opacity="0.6"/></filter></defs>
<path d="M1272,744 H1433 V776 H1263 Z" fill="#fff" fill-opacity="0.45"/>
<clipPath id="wc"><rect x="1240" y="735" width="262" height="70" transform="translate(0,0)"/></clipPath>
<g clip-path="url(#wc)"><g opacity="0.62" filter="url(#ds)">
<g transform="translate(1273,744) skewX(-15) scale(1,1.03)" fill="none" stroke="#fff" stroke-width="9" stroke-linejoin="miter">
<polyline points="2,6 13,6"/>
<polyline points="0,19 11,19"/>
<polyline points="13,28 9,42 -3,50"/>
<polyline points="22,0 20,10"/>
<polyline points="18,10 64,10"/>
<polyline points="22,18 22,50"/>
<polyline points="59,10 59,50"/>
<polyline points="22,21 59,21"/>
<polyline points="14,35 66,35"/>
<polyline points="22,48 59,48"/>
</g>
<g transform="translate(1339,744) skewX(-15) scale(1,1.03)" fill="none" stroke="#fff" stroke-width="9" stroke-linejoin="miter">
<polyline points="8,8 47,8 47,25"/>
<polyline points="15,8 13,25 58,25 58,44 46,50"/>
<polyline points="0,38 48,38"/>
</g>
<g transform="translate(1398,744) skewX(-15) scale(1,1.03)" fill="none" stroke="#fff" stroke-width="9" stroke-linejoin="miter">
<polyline points="4,4 25,4 25,36"/>
<polyline points="4,4 4,36"/>
<polyline points="14,14 14,34 2,50"/>
<polyline points="17,38 27,50"/>
<polyline points="31,16 59,16"/>
<polyline points="49,2 49,49 40,47"/>
<polyline points="47,18 31,40"/>
</g>
<g transform="translate(1449,744) skewX(-15) scale(1,1.03)" fill="none" stroke="#fff" stroke-width="9" stroke-linejoin="miter">
<polyline points="14,2 4,16 16,16 2,32 18,29"/>
<polyline points="0,46 18,40"/>
<polyline points="26,6 53,6 30,27"/>
<polyline points="35,13 55,28"/>
<polyline points="28,33 55,33"/>
<polyline points="41,33 41,48"/>
<polyline points="24,48 58,48"/>
</g>
</g></g>
</svg></body></html>
